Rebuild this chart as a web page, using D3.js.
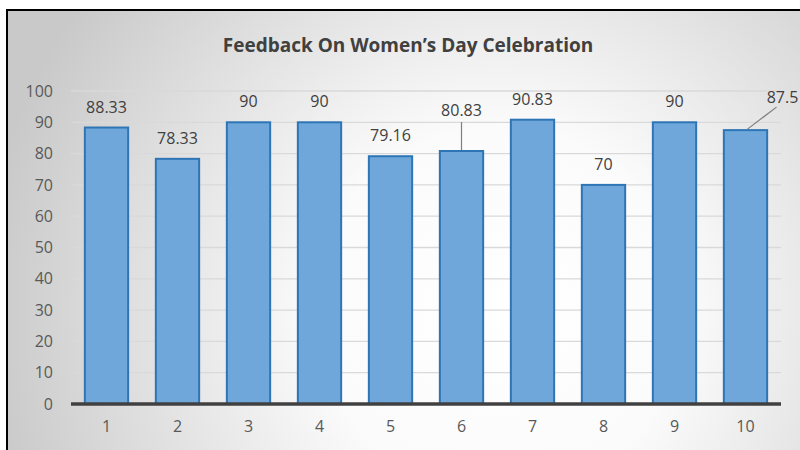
<!DOCTYPE html>
<html>
<head>
<meta charset="utf-8">
<script src="https://d3js.org/d3.v7.min.js"></script>
<style>
  html, body { margin: 0; padding: 0; background: #fff; }
  svg { display: block; font-family: 'Open Sans', 'Liberation Sans', sans-serif; }
</style>
</head>
<body>
<div id="chart"></div>
<script>
// --- data ---
const categories = ["1", "2", "3", "4", "5", "6", "7", "8", "9", "10"];
const scores = [88.33, 78.33, 90, 90, 79.16, 80.83, 90.83, 70, 90, 87.5];
const labels = ["88.33", "78.33", "90", "90", "79.16", "80.83", "90.83", "70", "90", "87.5"];
const yTicks = [0, 10, 20, 30, 40, 50, 60, 70, 80, 90, 100];

const W = 800, H = 450;
const margin = { top: 91, right: 19, bottom: 46, left: 71 };
const width = W - margin.left - margin.right;
const height = H - margin.top - margin.bottom;

const svg = d3.select("#chart").append("svg").attr("width", W).attr("height", H);

// background gradient
const defs = svg.append("defs");
const grad = defs.append("radialGradient")
  .attr("id", "bg").attr("gradientUnits", "userSpaceOnUse")
  .attr("cx", 500).attr("cy", 310).attr("r", 520);
grad.append("stop").attr("offset", "0%").attr("stop-color", "#ffffff");
grad.append("stop").attr("offset", "35%").attr("stop-color", "#fbfbfb");
grad.append("stop").attr("offset", "100%").attr("stop-color", "#c9c9c9");

svg.append("rect").attr("x", 7).attr("y", 10).attr("width", 810).attr("height", 460)
  .attr("fill", "url(#bg)").attr("stroke", "#000").attr("stroke-width", 2);

svg.append("text")
  .attr("x", 408).attr("y", 52)
  .attr("text-anchor", "middle")
  .attr("font-size", 19).attr("font-weight", "bold").attr("fill", "#404040")
  .text("Feedback On Women\u2019s Day Celebration");

const g = svg.append("g").attr("transform", `translate(${margin.left},${margin.top})`);

const x = d3.scaleBand().domain(categories).range([0, width]).paddingInner(0.39).paddingOuter(0.195);
const y = d3.scaleLinear().domain([0, 100]).range([height, 0]);

// gridlines
g.append("g").selectAll("line").data(yTicks.filter(t => t > 0)).enter().append("line")
  .attr("x1", 0).attr("x2", width)
  .attr("y1", d => y(d)).attr("y2", d => y(d))
  .attr("stroke", "#d9d9d9").attr("stroke-width", 1.3);

// y axis labels
const yAxis = g.append("g")
  .call(d3.axisLeft(y).tickValues(yTicks).tickSize(0).tickPadding(18));
yAxis.select(".domain").remove();
yAxis.selectAll("text").attr("font-size", 16).attr("fill", "#595959")
  .attr("font-family", "'Open Sans', sans-serif");

// bars
g.append("g").selectAll("rect").data(scores).enter().append("rect")
  .attr("x", (d, i) => x(categories[i]))
  .attr("y", d => y(d))
  .attr("width", x.bandwidth())
  .attr("height", d => height - y(d))
  .attr("fill", "#70a7da")
  .attr("stroke", "#2e75b6").attr("stroke-width", 2);

// baseline
g.append("line").attr("x1", 0).attr("x2", width).attr("y1", height).attr("y2", height)
  .attr("stroke", "#404040").attr("stroke-width", 3.5);

// x axis labels
const xAxis = g.append("g").attr("transform", `translate(0,${height})`)
  .call(d3.axisBottom(x).tickSize(0).tickPadding(17));
xAxis.select(".domain").remove();
xAxis.selectAll("text").attr("font-size", 16).attr("fill", "#595959")
  .attr("font-family", "'Open Sans', sans-serif");

// data labels (6 and 10 were dragged away, with leader lines)
const labelShift = { 5: { dx: 0, dy: -20 }, 9: { dx: 37, dy: -12 } };
const lbl = g.append("g");
scores.forEach((v, i) => {
  const cx = x(categories[i]) + x.bandwidth() / 2;
  const s = labelShift[i] || { dx: 0, dy: 0 };
  const ty = y(v) - 15 + s.dy;
  lbl.append("text")
    .attr("x", cx + s.dx).attr("y", ty)
    .attr("text-anchor", "middle")
    .attr("font-size", 16).attr("fill", "#404040")
    .text(labels[i]);
  if (labelShift[i]) {
    const lx = i === 5 ? cx : cx + s.dx - 6;
    const ly = i === 5 ? ty + 6 : ty + 4;
    g.append("line")
      .attr("x1", lx).attr("y1", ly)
      .attr("x2", i === 5 ? cx : cx + 2).attr("y2", y(v) - 1)
      .attr("stroke", "#7f7f7f").attr("stroke-width", 1.2);
  }
});
</script>
</body>
</html>
